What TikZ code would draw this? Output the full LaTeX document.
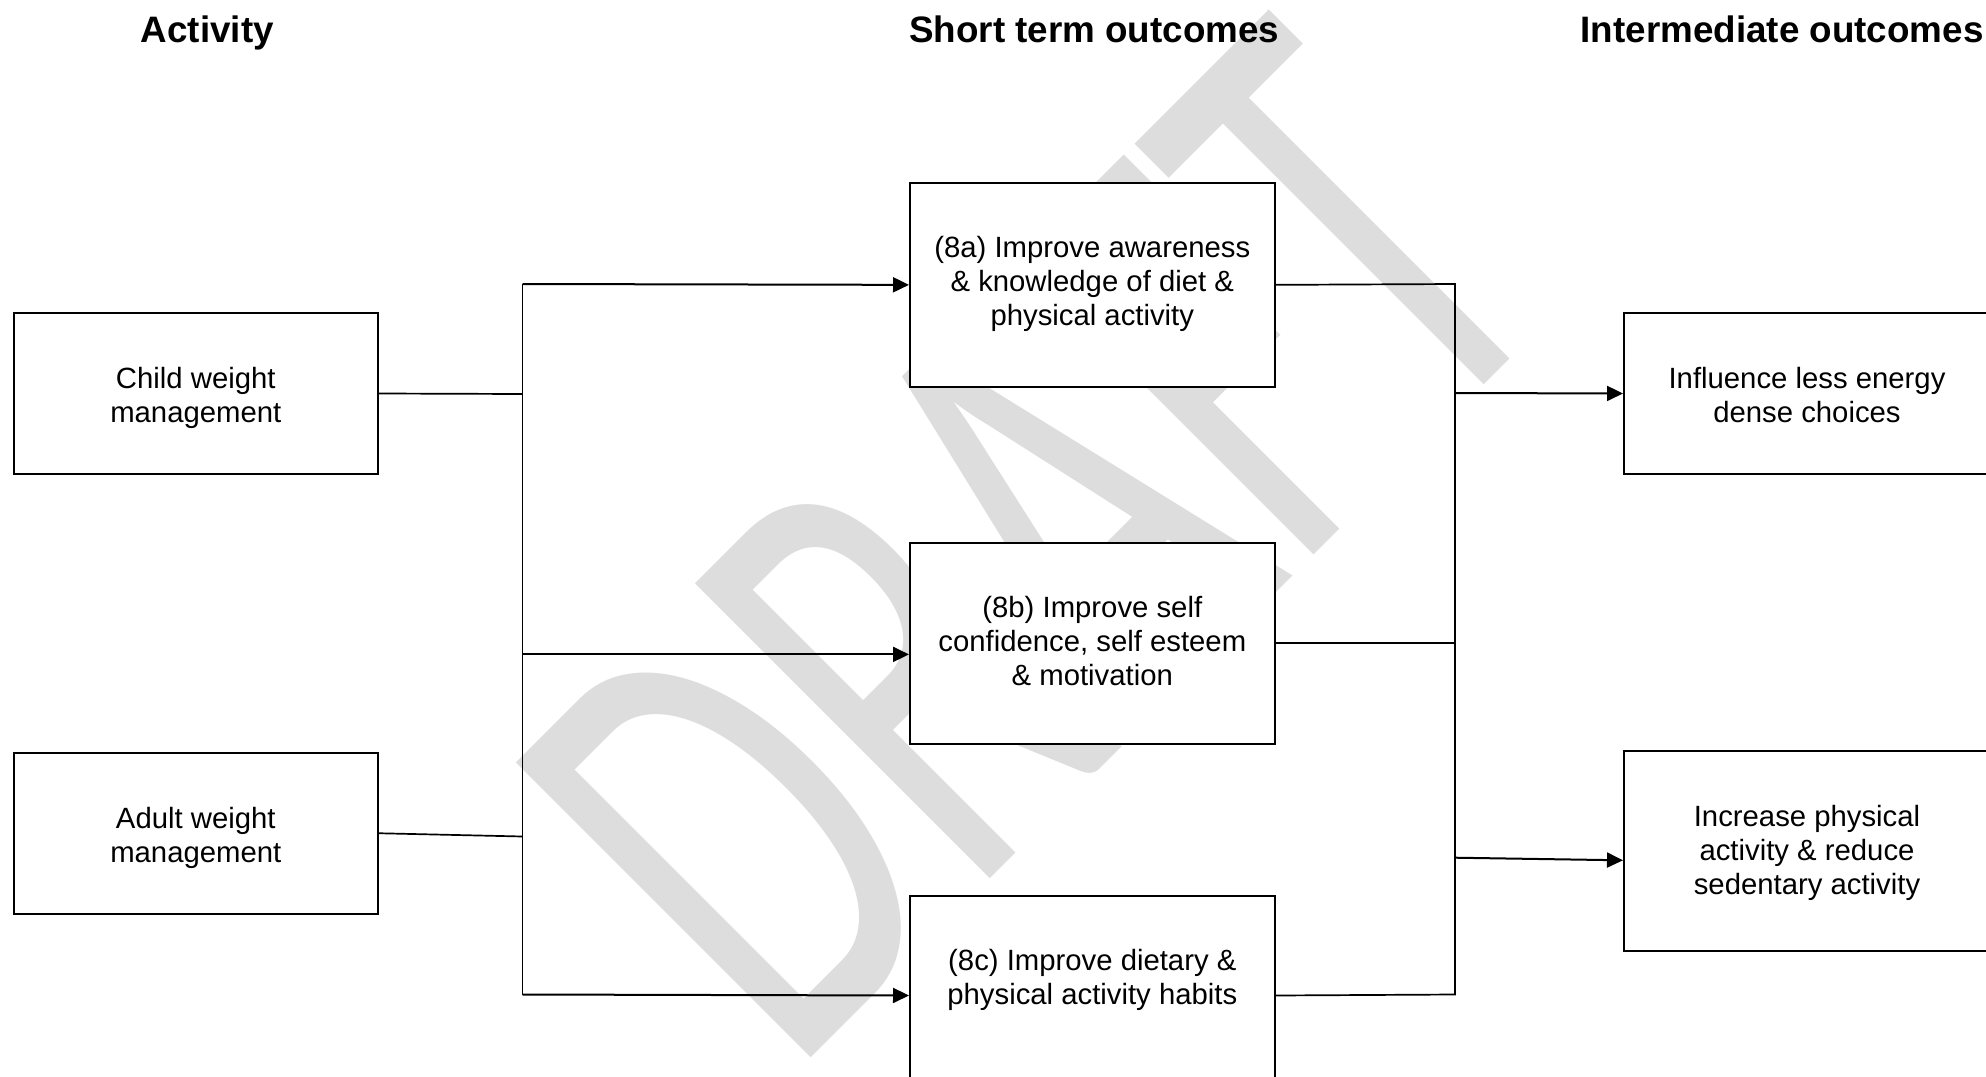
\documentclass[tikz,border=0pt]{standalone}
\usepackage{fontspec}
\setmainfont{Liberation Sans}
\newfontfamily\wmfont{Carlito}
\usetikzlibrary{arrows.meta}
\definecolor{wmgray}{RGB}{221,221,221}
\newcommand\boxtext[1]{\begin{tabular}[t]{@{}c@{}}#1\end{tabular}}
\begin{document}
\begin{tikzpicture}[x=1pt,y=1pt,
  box/.style={draw, line width=2pt, fill=white, inner sep=0pt,
    minimum width=364.6pt, text height=75pt, anchor=north west,
    font=\fontsize{29.3}{34}\selectfont},
  head/.style={anchor=base west, inner sep=0pt,
    font=\fontsize{36.8}{40}\selectfont\bfseries},
  conn/.style={line width=1.7pt},
  arr/.style={line width=2pt, -{Triangle[length=16pt,width=15pt]}}]
\useasboundingbox (0,0) rectangle (1986,-1076);
\clip (0,0) rectangle (1986,-1076);
\fill[white] (0,0) rectangle (1986,-1076);

% watermark
\begin{scope}[shift={(791,-1078)}, rotate=45, xscale=0.63]
  \node[transform shape, anchor=base west, inner sep=0pt, text=wmgray,
    font=\fontsize{650}{650}\wmfont] (wm) at (0,0) {DRAFT};
\end{scope}

% column headings
\node[head] (hact) at (140.6,-42.5) {Activity};
\node[head] (hshort) at (909,-42.5) {Short term outcomes};
\node[head] (hinter) at (1580.5,-42.5) {Intermediate outcomes};

% activities
\node[box, text depth=86pt] (child) at (12.5,-312) {\boxtext{Child weight\\management}};
\node[box, text depth=85.5pt] (adult) at (12.5,-752) {\boxtext{Adult weight\\management}};

% short term outcomes
\node[box, text depth=129.3pt] (s8a) at (909,-181.7) {\boxtext{(8a) Improve awareness\\\& knowledge of diet \&\\physical activity}};
\node[box, text depth=126.1pt] (s8b) at (909,-541.5) {\boxtext{(8b) Improve self\\confidence, self esteem\\\& motivation}};
\node[box, text depth=125pt] (s8c) at (909,-894.5) {\boxtext{(8c) Improve dietary \&\\physical activity habits}};

% intermediate outcomes
\node[box, minimum width=366pt, text depth=86pt] (infl) at (1623,-312) {\boxtext{Influence less energy\\dense choices}};
\node[box, minimum width=366pt, text depth=125.4pt] (incr) at (1623,-750) {\boxtext{Increase physical\\activity \& reduce\\sedentary activity}};

% left bus
\coordinate (ltop) at (522.5,-284);
\coordinate (lbot) at (522.5,-994.5);
\coordinate (lchild) at (522.5,-394);
\coordinate (ladult) at (522.5,-836.5);
\coordinate (l8b) at (522.5,-654.4);
\draw[conn] (child.east) -- (lchild);
\draw[conn] (adult.east) -- (ladult);
\draw[conn] (ltop) -- (lbot);
\draw[arr] (ltop) -- (s8a.west);
\draw[arr] (l8b) -- (l8b -| s8b.west);
\draw[arr] (lbot) -- (s8c.west);

% right bus
\coordinate (rtop) at (1455,-284);
\coordinate (rbot) at (1455,-994.5);
\coordinate (rinfl) at (1455,-393);
\coordinate (rincr) at (1455,-857.7);
\coordinate (eincr) at (1623,-860.3);
\draw[conn] (s8a.east) -- (rtop) -- (rbot) -- (s8c.east);
\draw[conn] (s8b.east) -- (s8b.east -| rtop);
\draw[arr] (rinfl) -- (infl.west);
\draw[arr] (rincr) -- (eincr);
\end{tikzpicture}
\end{document}
